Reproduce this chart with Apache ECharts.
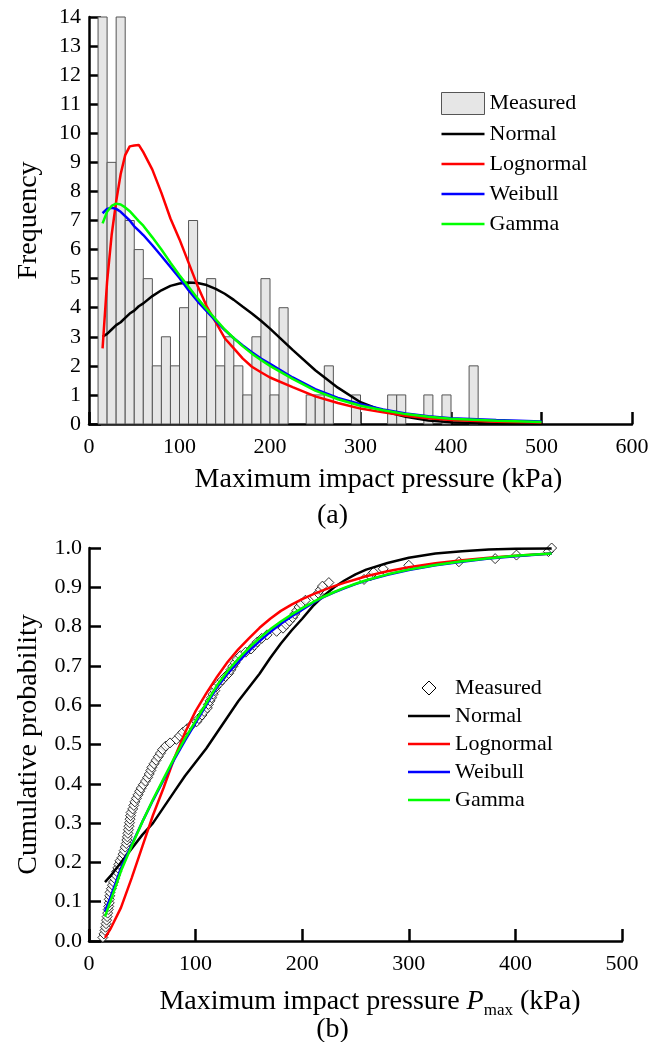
<!DOCTYPE html>
<html>
<head>
<meta charset="utf-8">
<script src="https://cdn.jsdelivr.net/npm/echarts@6/dist/echarts.min.js"></script>
<style>
html,body{margin:0;padding:0;background:#fff;}
#c{width:665px;height:1042px;}
</style>
</head>
<body>
<div id="c"></div>
<script>
// ---------- (a) histogram + fitted PDFs ----------
const binStart = [10,20,30,40,50,60,70,80,90,100,110,120,130,140,150,160,170,180,190,200,210,240,250,260,290,330,340,370,390,420];
const binWidth = 10;
const binCounts = [14,9,14,7,6,5,2,3,2,4,7,3,5,2,3,2,1,3,5,1,4,1,1,2,1,1,1,1,1,2];

const pdfX      = [15,20,25,30,35,40,45,50,55,60,70,80,90,100,110,120,130,140,150,160,170,180,190,200,225,250,275,300,325,350,375,400,450,500];
const pdfNormal = [3.0,3.1,3.25,3.4,3.5,3.65,3.8,3.9,4.05,4.15,4.4,4.6,4.75,4.83,4.87,4.85,4.78,4.65,4.48,4.27,4.03,3.8,3.55,3.28,2.55,1.85,1.25,0.75,0.45,0.25,0.12,0.06,0.01,0.0];
const pdfLogn   = [2.6,4.9,6.5,7.65,8.6,9.25,9.55,9.58,9.6,9.35,8.75,7.95,7.07,6.35,5.55,4.75,4.05,3.5,2.95,2.6,2.25,1.97,1.78,1.6,1.27,0.95,0.72,0.53,0.4,0.28,0.2,0.14,0.08,0.05];
const pdfWeib   = [7.25,7.4,7.44,7.4,7.3,7.15,7.0,6.8,6.65,6.5,6.15,5.78,5.4,5.02,4.6,4.22,3.88,3.55,3.23,2.95,2.7,2.47,2.25,2.07,1.6,1.2,0.9,0.68,0.5,0.36,0.27,0.2,0.14,0.09];
const pdfGamma  = [6.9,7.3,7.5,7.58,7.55,7.45,7.32,7.15,6.98,6.82,6.42,6.0,5.55,5.12,4.72,4.32,3.95,3.6,3.25,2.95,2.67,2.42,2.2,2.0,1.55,1.15,0.85,0.63,0.47,0.34,0.25,0.18,0.11,0.07];

// ---------- (b) empirical CDF + fitted CDFs ----------
const measX = [13,14,15,15.5,16,16.5,17,17.5,18,18.5,19,19,19.5,19.8,
  21,22,23,24,25,26,27,28,29,
  31,32,33,34,35,35.5,36,36.5,37,37.5,38,38.5,39,39.5,
  41,42,43,44.5,46,47.5,49,
  51,53,55,56.5,58,59,
  61,63,65,67,69,
  72,76,
  82,85,88,
  92,96,
  101,103,106,108,
  111,112,113.5,115,116.5,118,119,
  122,125,128,
  131,133,135,137,139,
  142,147,
  152,155,158,
  162,167,
  176,
  182,185,188,
  191,193,195,197,199,
  203,
  212,215,217,219,
  225,258,264,267,276,300,347,381,401,431,434];
const measP = [0.009,0.018,0.027,0.035,0.044,0.053,0.062,0.071,0.080,0.088,0.097,0.106,0.115,0.124,
  0.133,0.142,0.150,0.159,0.168,0.177,0.186,0.195,0.204,
  0.212,0.221,0.230,0.239,0.248,0.257,0.265,0.274,0.283,0.292,0.301,0.310,0.319,0.327,
  0.336,0.345,0.354,0.363,0.372,0.381,0.389,
  0.398,0.407,0.416,0.425,0.434,0.442,
  0.451,0.460,0.469,0.478,0.487,
  0.496,0.504,
  0.513,0.522,0.531,
  0.540,0.549,
  0.558,0.566,0.575,0.584,
  0.593,0.602,0.611,0.619,0.628,0.637,0.646,
  0.655,0.664,0.673,
  0.681,0.690,0.699,0.708,0.717,
  0.726,0.735,
  0.743,0.752,0.761,
  0.770,0.779,
  0.788,
  0.796,0.805,0.814,
  0.823,0.832,0.841,0.850,0.858,
  0.867,
  0.876,0.885,0.894,0.903,
  0.912,0.920,0.929,0.938,0.947,0.956,0.965,0.973,0.982,0.991,1.000];

const cdfX      = [15,20,30,40,50,60,70,80,90,100,110,120,130,140,150,160,170,180,190,200,210,220,230,240,250,260,280,300,325,350,375,400,434];
const cdfNormal = [0.15,0.165,0.2,0.235,0.27,0.3,0.34,0.38,0.42,0.455,0.49,0.53,0.57,0.61,0.645,0.68,0.72,0.757,0.79,0.82,0.852,0.878,0.9,0.918,0.933,0.945,0.962,0.975,0.986,0.992,0.996,0.998,0.999];
const cdfLogn   = [0.008,0.03,0.085,0.16,0.24,0.32,0.39,0.465,0.53,0.585,0.63,0.672,0.71,0.742,0.77,0.797,0.82,0.84,0.856,0.87,0.882,0.893,0.903,0.912,0.92,0.928,0.941,0.951,0.961,0.969,0.975,0.98,0.986];
const cdfWeib   = [0.075,0.11,0.185,0.245,0.303,0.358,0.41,0.462,0.51,0.555,0.6,0.645,0.68,0.71,0.738,0.763,0.786,0.807,0.826,0.843,0.86,0.875,0.887,0.898,0.908,0.917,0.932,0.944,0.956,0.965,0.973,0.979,0.986];
const cdfGamma  = [0.062,0.1,0.178,0.242,0.303,0.36,0.413,0.466,0.515,0.56,0.605,0.65,0.687,0.718,0.746,0.771,0.793,0.813,0.831,0.847,0.862,0.876,0.888,0.899,0.909,0.918,0.933,0.945,0.957,0.966,0.974,0.98,0.986];

const topXTicks = {min:0, max:600, interval:100};
const topYTicks = {min:0, max:14, interval:1};
const botXTicks = {min:0, max:500, interval:100};
const botYTicks = {min:0, max:1, interval:0.1};

// ---------- build ----------
const FONT = 'Liberation Serif';
const zip = (a, b) => a.map((v, i) => [v, b[i]]);
const histData = binStart.map((s, i) => [s, s + binWidth, binCounts[i]]);
const LINE_ICON = 'path://M0,0H42V2.5H0Z';

function axisCommon() {
  return {
    axisLine: {show: true, onZero: false, lineStyle: {color: '#000', width: 2.5}},
    axisTick: {show: true, inside: true, length: 12, lineStyle: {color: '#000', width: 2.5}},
    splitLine: {show: false},
    axisLabel: {color: '#000', fontFamily: FONT, fontSize: 22},
    nameTextStyle: {color: '#000', fontFamily: FONT, fontSize: 28}
  };
}

const lineSeries = (name, data, color, xi, yi) => ({
  name, type: 'line', data, xAxisIndex: xi, yAxisIndex: yi,
  showSymbol: false, symbol: 'none', smooth: false,
  lineStyle: {color, width: 2.5}, itemStyle: {color}, z: 3
});

const lineLegendItems = [
  {name: 'Normal', color: '#000000'},
  {name: 'Lognormal', color: '#ff0000'},
  {name: 'Weibull', color: '#0000ff'},
  {name: 'Gamma', color: '#00ff00'}
].map(o => ({name: o.name, icon: LINE_ICON, itemStyle: {color: o.color, borderWidth: 0, opacity: 1}, lineStyle: {width: 0, opacity: 0}}));

const option = {
  backgroundColor: '#fff',
  animation: false,
  grid: [
    {left: 89, top: 17, width: 543, height: 407},
    {left: 89, top: 548, width: 533, height: 393}
  ],
  xAxis: [
    Object.assign(axisCommon(), {
      type: 'value', gridIndex: 0, min: topXTicks.min, max: topXTicks.max, interval: topXTicks.interval,
      name: 'Maximum impact pressure (kPa)', nameLocation: 'middle', nameGap: 42,
      axisLabel: {color: '#000', fontFamily: FONT, fontSize: 22, margin: 12},
      nameTextStyle: {color: '#000', fontFamily: FONT, fontSize: 28, padding: [0, 0, 0, 36]}
    }),
    Object.assign(axisCommon(), {
      type: 'value', gridIndex: 1, min: botXTicks.min, max: botXTicks.max, interval: botXTicks.interval,
      name: '{n|Maximum impact pressure }{i|P}{s|max}{n| (kPa)}', nameLocation: 'middle', nameGap: 44,
      axisLabel: {color: '#000', fontFamily: FONT, fontSize: 22, margin: 12},
      nameTextStyle: {
        color: '#000', fontFamily: FONT, fontSize: 28, padding: [0, 0, 0, 29],
        rich: {
          n: {fontFamily: FONT, fontSize: 28, color: '#000', lineHeight: 34},
          i: {fontFamily: FONT, fontSize: 28, color: '#000', fontStyle: 'italic', lineHeight: 34},
          s: {fontFamily: FONT, fontSize: 17, color: '#000', verticalAlign: 'bottom', lineHeight: 22, padding: [14, 0, 0, 0]}
        }
      }
    })
  ],
  yAxis: [
    Object.assign(axisCommon(), {
      type: 'value', gridIndex: 0, min: topYTicks.min, max: topYTicks.max, interval: topYTicks.interval,
      name: 'Frequency', nameLocation: 'middle', nameGap: 46,
      axisLabel: {color: '#000', fontFamily: FONT, fontSize: 22, margin: 8}
    }),
    Object.assign(axisCommon(), {
      type: 'value', gridIndex: 1, min: botYTicks.min, max: botYTicks.max, interval: botYTicks.interval,
      name: 'Cumulative probability', nameLocation: 'middle', nameGap: 46,
      axisLabel: {color: '#000', fontFamily: FONT, fontSize: 22, margin: 7, formatter: v => v.toFixed(1)}
    })
  ],
  legend: [
    {
      left: 436, top: 87, orient: 'vertical', itemWidth: 43, itemHeight: 22, itemGap: 8,
      symbolKeepAspect: true,
      textStyle: {fontFamily: FONT, fontSize: 22, color: '#000'},
      data: [{name: 'Measured', icon: 'rect', itemStyle: {color: '#e6e6e6', borderColor: '#555', borderWidth: 1}}].concat(lineLegendItems),
      selectedMode: false
    },
    {
      left: 403, top: 672, orient: 'vertical', itemWidth: 42, itemHeight: 14, itemGap: 6,
      symbolKeepAspect: true,
      textStyle: {fontFamily: FONT, fontSize: 22, color: '#000'},
      data: [{name: 'Measured', icon: 'path://M6,0L12,6L6,12L0,6Z', itemStyle: {color: '#fff', borderColor: '#000', borderWidth: 1}}].concat(lineLegendItems),
      selectedMode: false
    }
  ],
  graphic: [
    {type: 'text', left: 'center', top: 502, style: {text: '(a)', fontFamily: FONT, fontSize: 28, fill: '#000'}},
    {type: 'text', left: 'center', top: 1016, style: {text: '(b)', fontFamily: FONT, fontSize: 28, fill: '#000'}}
  ],
  series: [
    {
      name: 'Measured', type: 'custom', xAxisIndex: 0, yAxisIndex: 0, data: histData,
      encode: {x: [0, 1], y: 2}, z: 2,
      itemStyle: {color: '#e6e6e6', borderColor: '#555', borderWidth: 1},
      renderItem: (params, api) => {
        const p0 = api.coord([api.value(0), api.value(2)]);
        const p1 = api.coord([api.value(1), 0]);
        return {type: 'rect', shape: {x: p0[0], y: p0[1], width: p1[0] - p0[0], height: p1[1] - p0[1]},
          style: {fill: '#e6e6e6', stroke: '#555', lineWidth: 1}};
      }
    },
    lineSeries('Normal', zip(pdfX, pdfNormal), '#000000', 0, 0),
    lineSeries('Lognormal', zip(pdfX, pdfLogn), '#ff0000', 0, 0),
    lineSeries('Weibull', zip(pdfX, pdfWeib), '#0000ff', 0, 0),
    lineSeries('Gamma', zip(pdfX, pdfGamma), '#00ff00', 0, 0),
    {
      name: 'Measured', type: 'scatter', xAxisIndex: 1, yAxisIndex: 1, data: zip(measX, measP),
      symbol: 'diamond', symbolSize: 10, z: 2,
      itemStyle: {color: '#fff', borderColor: '#000', borderWidth: 1}
    },
    lineSeries('Normal', zip(cdfX, cdfNormal), '#000000', 1, 1),
    lineSeries('Lognormal', zip(cdfX, cdfLogn), '#ff0000', 1, 1),
    lineSeries('Weibull', zip(cdfX, cdfWeib), '#0000ff', 1, 1),
    lineSeries('Gamma', zip(cdfX, cdfGamma), '#00ff00', 1, 1)
  ]
};

const chart = echarts.init(document.getElementById('c'), null, {renderer: 'canvas'});
chart.setOption(option);
</script>
</body>
</html>
